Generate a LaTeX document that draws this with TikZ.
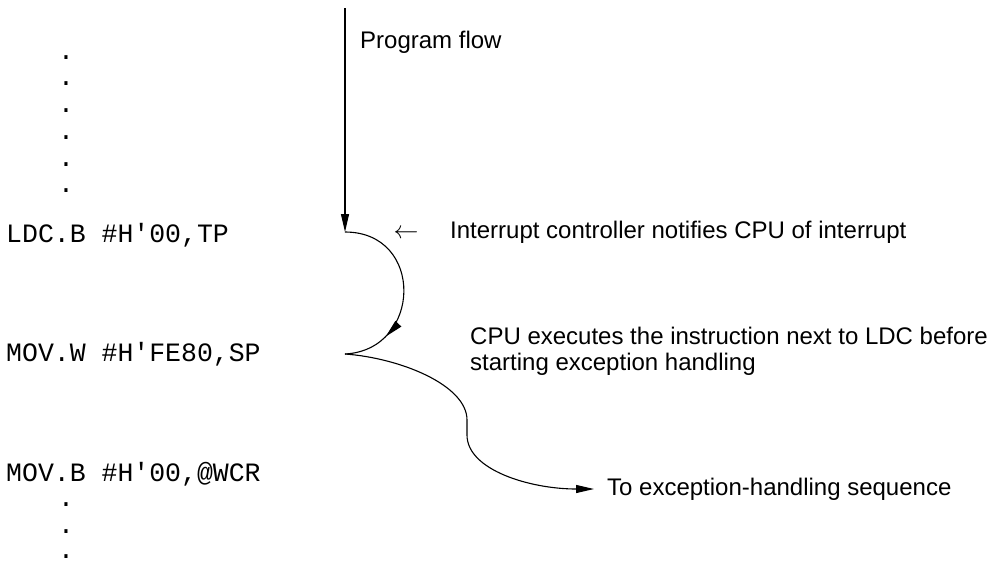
\documentclass[tikz,border=0pt]{standalone}
\usepackage{fontspec}
\setmainfont{Liberation Sans}
\newfontfamily\monofont{Liberation Mono}
\usetikzlibrary{arrows.meta,decorations.markings}
\begin{document}
\begin{tikzpicture}[x=1pt,y=-1pt,
  code/.style={font=\monofont\fontsize{26.5}{30}\selectfont, inner sep=0pt, anchor=base west},
  dotmark/.style={font=\monofont\fontsize{26.5}{30}\selectfont, inner sep=0pt, anchor=base},
  lbl/.style={font=\fontsize{24}{26}\selectfont, inner sep=0pt, anchor=base west, align=left},
  flow/.style={line width=1.1pt, black},
  headtip/.style={-{Triangle[length=18pt,width=8pt]}}]
\useasboundingbox (0,0) rectangle (987,562);

% code column
\foreach \yy [count=\i] in {59,85,112,139,166,192} {
  \node[dotmark] (dt\i) at (66,\yy) {.};
}
\node[code] (ldc) at (6,242) {LDC.B \#H'00,TP};
\node[code] (movw) at (6,361) {MOV.W \#H'FE80,SP};
\node[code] (movb) at (6,481) {MOV.B \#H'00,@WCR};
\foreach \yy [count=\i] in {506,533,558} {
  \node[dotmark] (db\i) at (66,\yy) {.};
}

% labels
\node[lbl] (pflow) at (360,48) {Program flow};
\node[inner sep=0pt, anchor=base, font=\fontsize{24}{26}\selectfont] (larr) at (406,238) {$\leftarrow$};
\node[lbl] (intr) at (450,238) {Interrupt controller notifies CPU of interrupt};
\node[lbl] (cpu) at (470,370) {CPU executes the instruction next to LDC before\\starting exception handling};
\node[lbl] (toex) at (607,495) {To exception-handling sequence};

% flow path
\coordinate (top) at (345,8);
\coordinate (p1) at (345,232);
\coordinate (p2) at (345,354);
\coordinate (p3) at (467,420);
\coordinate (p4) at (467,435);
\coordinate (p5) at (594,489);

\draw[flow, headtip] (top) -- (p1);
\draw[flow, postaction={decorate}, decoration={markings,
   mark=at position 0.76 with {\arrow{Triangle[length=18pt,width=8pt]}}}]
  (p1) .. controls (425,232) and (422,350) .. (p2);
\draw[flow, headtip] (p2) .. controls (400,358) and (467,385) .. (p3)
  -- (p4) .. controls (467,470) and (530,489) .. (p5);
\end{tikzpicture}
\end{document}
